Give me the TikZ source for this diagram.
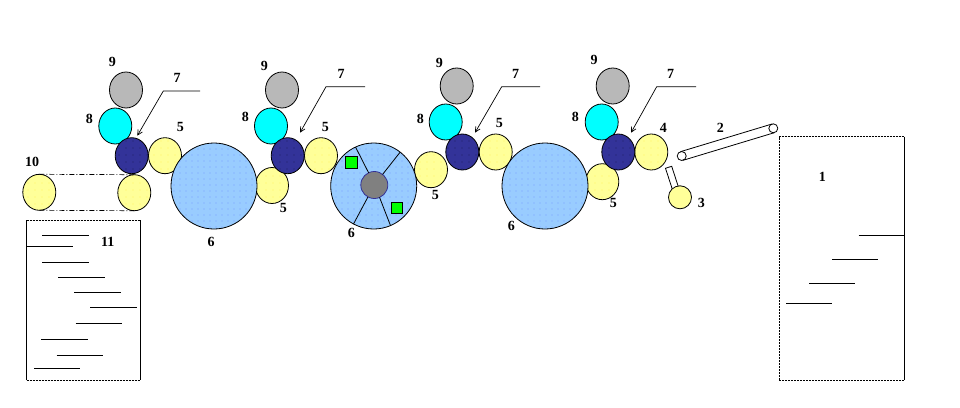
\documentclass[tikz,border=0pt]{standalone}
\usepackage{fontspec}
\setmainfont{Liberation Serif}
\usetikzlibrary{shapes.geometric, arrows.meta, patterns.meta}

\definecolor{rollyellow}{HTML}{FFFF99}
\definecolor{drumblue}{HTML}{99CCFF}
\definecolor{rollnavy}{HTML}{333399}
\definecolor{rollcyan}{HTML}{00FFFF}
\definecolor{rollgray}{HTML}{B8B8B8}
\definecolor{hubgray}{HTML}{808080}

\tikzset{
    roll/.style={ellipse,draw=black,line width=0.8pt,inner sep=0pt,outer sep=0pt,minimum width=33pt,minimum height=36pt},
    yellowroll/.style={roll,fill=rollyellow,postaction={pattern={Dots[distance=7pt,radius=0.4pt]},pattern color=yellow!80!orange}},
    navyroll/.style={roll,fill=rollnavy,postaction={pattern={Dots[distance=7pt,radius=0.4pt]},pattern color=black}},
    cyanroll/.style={roll,fill=rollcyan},
    grayroll/.style={roll,fill=rollgray},
    drum/.style={circle,draw=black,line width=0.8pt,fill=drumblue,inner sep=0pt,outer sep=0pt,minimum size=86pt,postaction={pattern={Dots[distance=6pt,radius=0.4pt]},pattern color=blue!60!drumblue}},
    pulley/.style={circle,draw=black,line width=0.8pt,fill=white,inner sep=0pt,outer sep=0pt,minimum size=9pt},
    greenbox/.style={rectangle,draw=black,line width=0.8pt,fill=green,inner sep=0pt,minimum size=11.5pt},
    numlabel/.style={font=\fontsize{14}{16}\selectfont\bfseries,inner sep=0pt},
    leader/.style={line width=0.7pt,-{Straight Barb[length=5pt,width=5pt]}},
    sheetedge/.style={line width=0.9pt,dash pattern=on 2pt off 1pt},
    sheetline/.style={line width=0.9pt}
}

\begin{document}
\begin{tikzpicture}[x=1pt,y=-1pt]
    \useasboundingbox (0,0) rectangle (960,407);

    % rolls
    \foreach \rollname/\px/\py in {ya/165/155.7,yb/134.3/192.7,yc/39.3/192.3,yd/272/185.5,ye/321/155.7,yf/431/169.7,yg/495.7/152,yh/602.3/181.7,yi/651.3/152}
        \node[yellowroll] (\rollname) at (\px,\py) {};
    \node[drum] (druma) at (214,186) {};
    \node[drum] (drumb) at (373.7,186) {};
    \node[drum] (drumc) at (545,186) {};
    \foreach \rollname/\px/\py in {ca/115.3/126,cb/271/126,cc/445.7/122,cd/601.7/122}
        \node[cyanroll] (\rollname) at (\px,\py) {};
    \foreach \rollname/\px/\py in {ga/126/90,gb/282/90,gc/456.7/86,gd/612.7/86}
        \node[grayroll] (\rollname) at (\px,\py) {};
    \foreach \rollname/\px/\py in {na/131.7/155.7,nb/287.7/155.7,nc/462.3/152,nd/618.3/152}
        \node[navyroll] (\rollname) at (\px,\py) {};

    % drum with hub
    \node[circle,draw=rollnavy,line width=0.8pt,fill=hubgray,inner sep=0pt,outer sep=0pt,minimum size=27pt] (hub) at (374.3,185) {};
    \foreach \ang in {115,52,242,293}
        \draw[line width=0.8pt] (hub.\ang) -- (drumb.\ang);
    \node[greenbox] (boxa) at (351.3,162.3) {};
    \node[greenbox] (boxb) at (397,208) {};

    % web between the last rolls
    \draw[line width=0.7pt,dash pattern=on 5pt off 2pt on 1pt off 2pt] (yc.north) -- (yb.north);
    \draw[line width=0.7pt,dash pattern=on 5pt off 2pt on 1pt off 2pt] (yc.south) -- (yb.south);

    % feed
    \node[rectangle,draw=black,line width=0.8pt,fill=white,inner sep=0pt,outer sep=0pt,minimum width=6.5pt,minimum height=24pt,rotate=18] (tube) at (672.3,178.7) {};
    \node[circle,draw=black,line width=0.8pt,fill=rollyellow,inner sep=0pt,outer sep=0pt,minimum size=23pt] (ysmall) at (680,197.3) {};
    \node[pulley] (beltl) at (681.7,156) {};
    \node[pulley] (beltr) at (773.3,128.3) {};
    \draw[line width=0.8pt] (beltl.107) -- (beltr.107);
    \draw[line width=0.8pt] (beltl.-73) -- (beltr.-73);

    % leaders
    \foreach \idx/\tipx/\tipy/\elbx/\elby/\endx in {a/137.3/135.7/163.3/91/200,b/300/132.7/326/86.7/365,c/475/132.7/501.7/86.7/540,d/631/132.7/656.7/86.7/696} {
        \coordinate (tip\idx) at (\tipx,\tipy);
        \coordinate (elb\idx) at (\elbx,\elby);
        \coordinate (end\idx) at (\endx,\elby);
        \draw[leader] (end\idx) -- (elb\idx) -- (tip\idx);
    }

    % sheet stacks
    \draw[sheetedge] (779,380) -- (779,136.7) -- (904.3,136.7);
    \draw[sheetedge] (779,380) -- (904.3,380);
    \draw[sheetline] (904.3,136.7) -- (904.3,380);
    \foreach \xa/\xb/\yy in {858.7/904.3/235,832/878/259.3,809/855.3/283.7,786/832.3/303.3}
        \draw[sheetline] (\xa,\yy) -- (\xb,\yy);
    \draw[sheetedge] (26.7,220) -- (140.3,220);
    \draw[sheetedge] (26.7,380) -- (140.3,380);
    \draw[sheetline] (26.7,220) -- (26.7,380);
    \draw[sheetline] (140.3,220) -- (140.3,380);
    \foreach \xa/\xb/\yy in {42.3/88.7/235.3,26.7/72.7/246.7,42.3/88.7/262,58/104.7/277,74/120.7/292.3,90/136.7/307.7,75.7/121.7/323.7,41.3/87.7/339.7,56.7/102.7/355.7,34/80.3/368.3}
        \draw[sheetline] (\xa,\yy) -- (\xb,\yy);

    % numbers
    \foreach \labname/\px/\py/\txt in {la/822.3/176.7/1,lb/720.3/127.7/2,lc/701.3/203.3/3,ld/663.3/127.7/4,
        le/180.3/127.3/5,lf/283.3/207.7/5,lg/325.3/127.3/5,lh/435.3/195.3/5,li/499.3/123.3/5,lj/613.3/203.3/5,
        lk/211/242/6,ll/351.3/233.3/6,lm/511.3/226.3/6,
        ln/177/78.3/7,lo/341/74.3/7,lp/515.7/74.3/7,lq/670.7/74.3/7,
        lr/89.3/119.3/8,ls/245.3/116.7/8,lt/420.3/119.3/8,lu/575.3/116.7/8,
        lv/112.3/62.3/9,lw/264.3/66/9,lx/439.3/62.7/9,ly/594/60/9,
        lz/32/161.7/10,lza/107.7/241.7/11}
        \node[numlabel] (\labname) at (\px,\py) {\txt};
\end{tikzpicture}
\end{document}
